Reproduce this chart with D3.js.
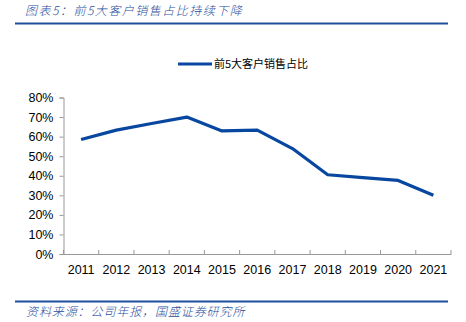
<!DOCTYPE html>
<html><head><meta charset="utf-8">
<script src="https://cdn.jsdelivr.net/npm/d3@7"></script>
<style>body{margin:0;background:#fff}svg{display:block}</style>
</head><body>
<svg id="c" width="466" height="322"></svg>
<script>
const categories = ["2011","2012","2013","2014","2015","2016","2017","2018","2019","2020","2021"];
const values = [0.585, 0.633, 0.667, 0.70, 0.629, 0.633, 0.539, 0.405, 0.39, 0.376, 0.30];
const yTicks = [0,0.1,0.2,0.3,0.4,0.5,0.6,0.7,0.8];
const seriesName = "前5大客户销售占比";
const titleText = "图表5：前5大客户销售占比持续下降";
const sourceText = "资料来源：公司年报，国盛证券研究所";

(function(){
const svg = d3.select("#c");
const mLeft = 63.5, mRight = 451, mTop = 97.5, mBottom = 254;
const x = d3.scaleBand().domain(categories).range([mLeft, mRight]);
const y = d3.scaleLinear().domain([0, 0.8]).range([mBottom, mTop]);
const blue = "#0847a0";
const font = "'Liberation Sans', Arial, sans-serif";

// title
svg.append("text").attr("x", 25).attr("y", 15).attr("font-size", 12)
  .attr("font-style", "italic").attr("fill", "#1f4e9c").attr("font-weight", 300)
  .attr("letter-spacing", 1.5)
  .attr("font-family", "'Noto Sans CJK SC', sans-serif")
  .text(titleText);
svg.append("line").attr("x1", 15).attr("x2", 448).attr("y1", 23.5).attr("y2", 23.5)
  .attr("stroke", "#1f4e9c").attr("stroke-width", 2);

// y axis
const yAxis = svg.append("g").attr("transform", `translate(${mLeft},0)`)
  .call(d3.axisLeft(y).tickValues(yTicks).tickFormat(d3.format(".0%")).tickSizeOuter(0).tickSize(4));
yAxis.select(".domain").attr("stroke", "#999");
yAxis.selectAll(".tick line").attr("stroke", "#999");
yAxis.selectAll("text").attr("font-size", 12.5).attr("font-family", font).attr("fill", "#000").attr("x", -10);

// x axis
const xAxis = svg.append("g").attr("transform", `translate(0,${mBottom})`)
  .call(d3.axisBottom(x).tickSize(0).tickSizeOuter(0));
xAxis.select(".domain").attr("stroke", "#999");
xAxis.selectAll("text").attr("font-size", 12.5).attr("font-family", font).attr("fill", "#000").attr("dy", "1.35em");
const bounds = categories.map(c => x(c)).concat([x(categories[categories.length-1]) + x.bandwidth()]);
svg.append("g").selectAll("line").data(bounds).join("line")
  .attr("x1", d => d).attr("x2", d => d).attr("y1", mBottom).attr("y2", mBottom - 4)
  .attr("stroke", "#999");

// line
const line = d3.line().x((d,i) => x(categories[i]) + x.bandwidth()/2).y(d => y(d));
svg.append("path").datum(values).attr("d", line).attr("fill", "none")
  .attr("stroke", blue).attr("stroke-width", 3.2).attr("stroke-linejoin", "round");

// legend
svg.append("line").attr("x1", 178).attr("x2", 212).attr("y1", 64).attr("y2", 64)
  .attr("stroke", blue).attr("stroke-width", 3.2);
svg.append("text").attr("x", 214).attr("y", 68).attr("font-size", 11)
  .attr("font-family", "'Noto Sans CJK SC', sans-serif").attr("fill", "#000").text(seriesName);

// footer
svg.append("line").attr("x1", 15).attr("x2", 448).attr("y1", 301.5).attr("y2", 301.5)
  .attr("stroke", "#1f4e9c").attr("stroke-width", 2);
svg.append("text").attr("x", 26).attr("y", 315.5).attr("font-size", 12)
  .attr("font-style", "italic").attr("fill", "#1f4e9c").attr("font-weight", 300)
  .attr("letter-spacing", 0.9)
  .attr("font-family", "'Noto Sans CJK SC', sans-serif").text(sourceText);
})();
</script>
</body></html>
